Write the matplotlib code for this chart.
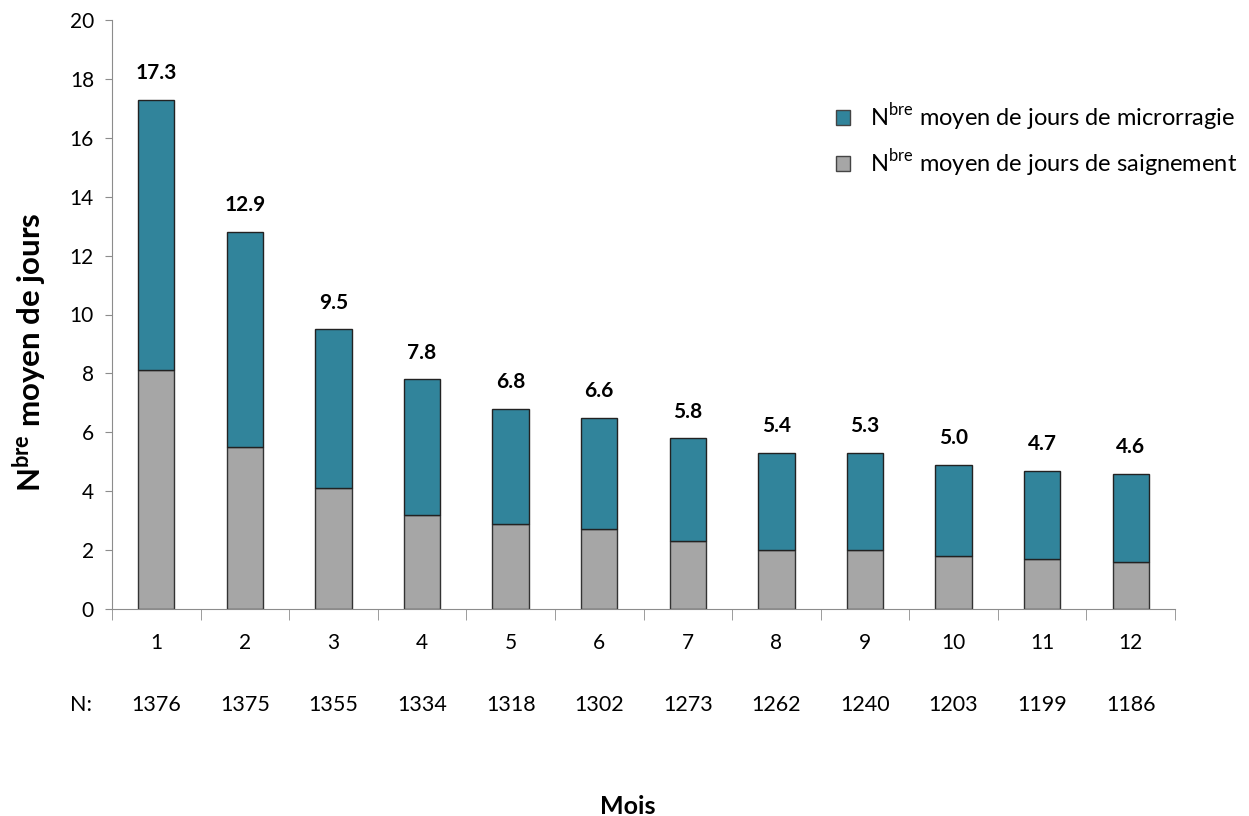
import matplotlib
matplotlib.use('Agg')
import numpy as np
import matplotlib.pyplot as plt
from matplotlib.patches import Patch
from matplotlib.transforms import blended_transform_factory

plt.rcParams['font.family'] = ['Lato', 'DejaVu Sans']
plt.rcParams['mathtext.fontset'] = 'custom'
plt.rcParams['mathtext.rm'] = 'Lato'
plt.rcParams['mathtext.bf'] = 'Lato:bold'

# Data
mois = ['1', '2', '3', '4', '5', '6', '7', '8', '9', '10', '11', '12']
n_patients = [1376, 1375, 1355, 1334, 1318, 1302, 1273, 1262, 1240, 1203, 1199, 1186]
saignement = [8.1, 5.5, 4.1, 3.2, 2.9, 2.7, 2.3, 2.0, 2.0, 1.8, 1.7, 1.6]
microrragie = [9.2, 7.3, 5.4, 4.6, 3.9, 3.8, 3.5, 3.3, 3.3, 3.1, 3.0, 3.0]
total_labels = ['17.3', '12.9', '9.5', '7.8', '6.8', '6.6', '5.8', '5.4', '5.3', '5.0', '4.7', '4.6']

teal = '#31849b'
grey = '#a6a6a6'
axis_col = '#8c8c8c'

fig = plt.figure(figsize=(12.49, 8.16), dpi=100)
ax = fig.add_axes([112 / 1249, 1 - 609 / 816, (1175 - 112) / 1249, (609 - 20) / 816])

x = np.arange(len(mois))
width = 0.41
ax.bar(x, saignement, width, color=grey, edgecolor='#333333', linewidth=1)
tops = ax.bar(x, microrragie, width, bottom=saignement, color=teal, edgecolor='#222222', linewidth=1)

for rect, lab in zip(tops, total_labels):
    ax.annotate(lab, (rect.get_x() + rect.get_width() / 2, rect.get_y() + rect.get_height()),
                xytext=(0, 12), textcoords='offset points', ha='center', va='bottom',
                fontsize=15, fontweight='bold')

ax.set_xlim(-0.5, len(mois) - 0.5)
ax.set_ylim(0, 20)
ax.set_yticks(np.arange(0, 21, 2))
ax.tick_params(axis='y', labelsize=15, length=5, color=axis_col, pad=8)

# category labels in the middle, ticks between categories
ax.set_xticks(x)
ax.set_xticklabels(mois)
ax.tick_params(axis='x', which='major', length=0, labelsize=15, pad=17)
ax.set_xticks(np.arange(-0.5, len(mois), 1), minor=True)
ax.tick_params(axis='x', which='minor', length=8, color=axis_col)

for side in ['top', 'right']:
    ax.spines[side].set_visible(False)
ax.spines['left'].set_color(axis_col)
ax.spines['bottom'].set_color(axis_col)

# N row under the axis
trans = blended_transform_factory(ax.transData, ax.transAxes)
ax.text(-0.85, -0.163, 'N:', transform=trans, ha='center', va='center', fontsize=15.5)
for xi, n in zip(x, n_patients):
    ax.text(xi, -0.163, str(n), transform=trans, ha='center', va='center', fontsize=15.5)

fig.text(628 / 1249, 1 - 806 / 816, 'Mois', ha='center', va='center', fontsize=18, fontweight='bold')
fig.text(30 / 1249, 1 - 352 / 816, r'N$^{\mathbf{bre}}$ moyen de jours', rotation=90,
         ha='center', va='center', fontsize=22.5, fontweight='bold')

handles = [Patch(facecolor=teal, edgecolor='#444444'), Patch(facecolor=grey, edgecolor='#444444')]
labels = [r'N$^{\mathregular{bre}}$ moyen de jours de microrragie',
          r'N$^{\mathregular{bre}}$ moyen de jours de saignement']
fig.legend(handles, labels, loc='upper left', bbox_to_anchor=(815 / 1249, 1 - 80 / 816),
           frameon=False, fontsize=17, handlelength=0.6, handleheight=0.6,
           handletextpad=0.85, labelspacing=0.6)

fig.savefig('out.png', dpi=100)
